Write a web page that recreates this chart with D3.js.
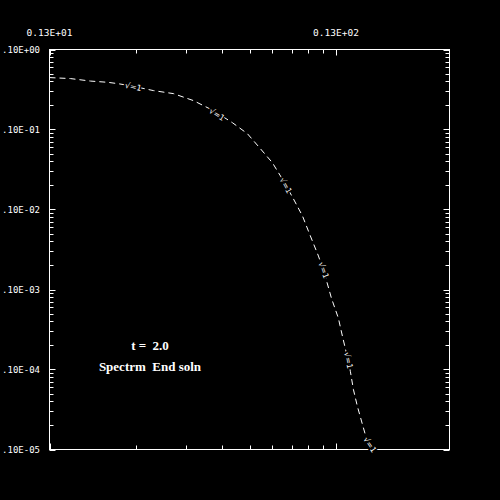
<!DOCTYPE html>
<html><head><meta charset="utf-8">
<script src="https://cdn.jsdelivr.net/npm/d3@7"></script>
<style>html,body{margin:0;padding:0;background:#000;}svg{display:block;}</style>
</head><body>
<script>
// Data (log-log spectrum)
const specX = [1.300,1.539,1.807,2.072,2.245,2.533,2.998,3.520,4.135,4.856,5.656,6.380,7.082,7.799,8.521,9.233,9.927,10.58,11.29,11.84,12.53,13.25,13.69,14.14,14.59,14.95,15.44,16.08,16.60,17.42];
const specY = [0.4457,0.4330,0.4030,0.3892,0.3750,0.3487,0.3063,0.2809,0.2296,0.1720,0.1216,0.08856,0.05746,0.03837,0.02283,0.01358,0.008315,0.004668,0.002620,0.001605,0.0007802,0.0004382,0.0002606,0.0001596,0.00009493,0.00005646,0.00003457,0.00002057,0.00001373,0.00001059];
const curveLabelX = [2.55, 5.0, 8.7, 11.8, 14.4, 17.1];
const curveLabelY = [0.345, 0.155, 0.0200, 0.00175, 0.000130, 0.0000115];
const curveLabelText = "√=1";
const xTickLabels = ["0.13E+01","0.13E+02"];
const xTickLabelVals = [1.3, 13];
const xMinorTicks = [2.6,3.9,5.2,6.5,7.8,9.1,10.4,11.7];
const yTickLabels = [".10E+00",".10E-01",".10E-02",".10E-03",".10E-04",".10E-05"];
const yTickVals = [1,1e-1,1e-2,1e-3,1e-4,1e-5];
const annotation1 = "t =  2.0";
const annotation2 = "Spectrm  End soln";

const W=500,H=500, L=49.5, T=49.5, PW=400, PH=400;
const svg = d3.select("body").append("svg").attr("width",W).attr("height",H).style("background","#000");
svg.append("rect").attr("width",W).attr("height",H).attr("fill","#000");

const x = d3.scaleLog().domain([1.3, 1.3*Math.pow(10,400/286.5)]).range([L, L+PW]);
const y = d3.scaleLog().domain([1e-5, 1]).range([T+PH, T]);

const g = svg.append("g").attr("stroke","#fff").attr("stroke-width",1).attr("fill","none");
g.append("rect").attr("x",L).attr("y",T).attr("width",PW).attr("height",PH);

// y minor ticks
const yMinor = [];
for (let e=-5;e<0;e++) for (let m=2;m<=9;m++) yMinor.push(m*Math.pow(10,e));
yMinor.forEach(v=>{
  const yy=Math.round(y(v))+0.5;
  g.append("line").attr("x1",L).attr("x2",L+4).attr("y1",yy).attr("y2",yy);
  g.append("line").attr("x1",L+PW).attr("x2",L+PW-4).attr("y1",yy).attr("y2",yy);
});
yTickVals.forEach(v=>{
  const yy=Math.round(y(v))+0.5;
  g.append("line").attr("x1",L).attr("x2",L+6).attr("y1",yy).attr("y2",yy);
  g.append("line").attr("x1",L+PW).attr("x2",L+PW-6).attr("y1",yy).attr("y2",yy);
});
xMinorTicks.forEach(v=>{
  const xx=Math.round(x(v))+0.5;
  g.append("line").attr("x1",xx).attr("x2",xx).attr("y1",T).attr("y2",T+4);
  g.append("line").attr("x1",xx).attr("x2",xx).attr("y1",T+PH).attr("y2",T+PH-4);
});
xTickLabelVals.forEach(v=>{
  const xx=Math.round(x(v))+0.5;
  g.append("line").attr("x1",xx).attr("x2",xx).attr("y1",T).attr("y2",T+6);
  g.append("line").attr("x1",xx).attr("x2",xx).attr("y1",T+PH).attr("y2",T+PH-6);
});

const mono = "'DejaVu Sans Mono', 'Liberation Mono', monospace";
svg.selectAll(".xl").data(xTickLabels).enter().append("text")
  .attr("x",(d,i)=>x(xTickLabelVals[i])).attr("y",36)
  .attr("text-anchor","middle").attr("fill","#fff")
  .style("font-family",mono).style("font-size","9.5px").text(d=>d);
svg.selectAll(".yl").data(yTickLabels).enter().append("text")
  .attr("x",40).attr("y",(d,i)=>y(yTickVals[i])+3.5)
  .attr("text-anchor","end").attr("fill","#fff")
  .style("font-family",mono).style("font-size","9px").text(d=>d);

// curve
const pts = specX.map((v,i)=>[x(v), y(specY[i])]);
svg.append("path").attr("d", d3.line()(pts))
  .attr("fill","none").attr("stroke","#fff").attr("stroke-width",1)
  .attr("stroke-dasharray","6,4");

// curve labels
curveLabelX.forEach((v,i)=>{
  const px=x(v), py=y(curveLabelY[i]);
  let k=d3.bisectLeft(specX, v); k=Math.max(1,Math.min(specX.length-1,k));
  const a=pts[k-1], b=pts[k];
  const ang=Math.atan2(b[1]-a[1], b[0]-a[0])*180/Math.PI;
  svg.append("text").attr("transform",`translate(${px},${py}) rotate(${ang})`)
    .attr("text-anchor","middle").attr("dy","3")
    .attr("fill","#fff").attr("stroke","#000").attr("stroke-width",3)
    .style("paint-order","stroke")
    .style("font-family","'DejaVu Sans', sans-serif").style("font-size","8px")
    .text(curveLabelText);
});

const serif = "'Liberation Serif', 'DejaVu Serif', serif";
svg.append("text").attr("x",150).attr("y",350).attr("text-anchor","middle")
  .attr("fill","#fff").style("font-family",serif).style("font-size","13px").style("font-weight","bold")
  .style("white-space","pre").text(annotation1);
svg.append("text").attr("x",150).attr("y",371).attr("text-anchor","middle")
  .attr("fill","#fff").style("font-family",serif).style("font-size","13px").style("font-weight","bold")
  .style("white-space","pre").text(annotation2);
</script>
</body></html>
